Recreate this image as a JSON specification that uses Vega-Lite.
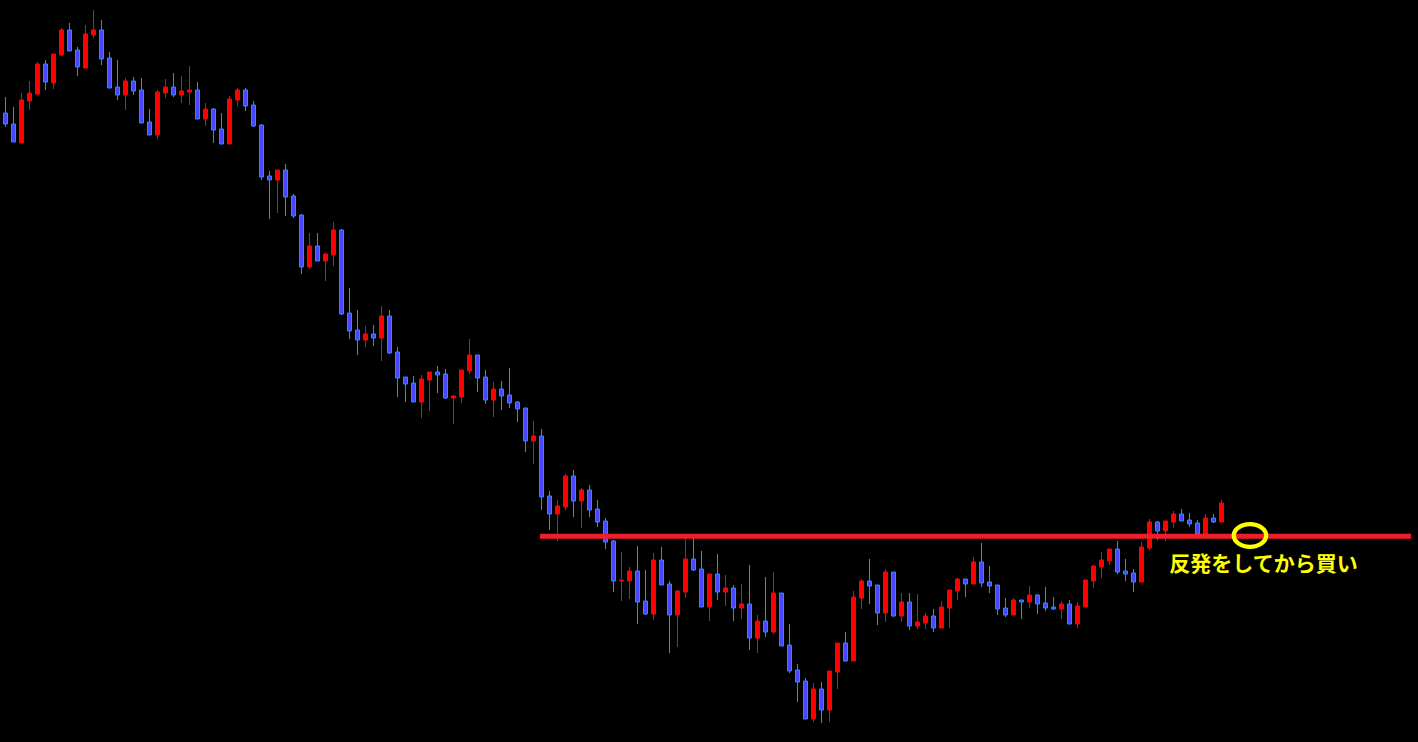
{
  "$schema": "https://vega.github.io/schema/vega-lite/v6.json",
  "width": 1418,
  "height": 742,
  "autosize": {"type": "fit", "contains": "padding"},
  "padding": 0,
  "background": "#000000",
  "config": {"view": {"stroke": null}},
  "datasets": {
    "candles": [
      {"i":0,"o":629,"h":645,"l":615,"c":618},
      {"i":1,"o":618,"h":635,"l":600,"c":600},
      {"i":2,"o":599,"h":649,"l":599,"c":642},
      {"i":3,"o":641,"h":661,"l":632,"c":649},
      {"i":4,"o":648,"h":680,"l":647,"c":678},
      {"i":5,"o":678,"h":682,"l":652,"c":660},
      {"i":6,"o":659,"h":688,"l":653,"c":688},
      {"i":7,"o":687,"h":714,"l":686,"c":712},
      {"i":8,"o":712,"h":719,"l":691,"c":691},
      {"i":9,"o":692,"h":695,"l":666,"c":675},
      {"i":10,"o":674,"h":717,"l":674,"c":708},
      {"i":11,"o":707,"h":732,"l":704,"c":712},
      {"i":12,"o":712,"h":722,"l":677,"c":683},
      {"i":13,"o":684,"h":690,"l":654,"c":654},
      {"i":14,"o":655,"h":682,"l":642,"c":647},
      {"i":15,"o":647,"h":664,"l":632,"c":661},
      {"i":16,"o":661,"h":665,"l":647,"c":651},
      {"i":17,"o":652,"h":664,"l":619,"c":619},
      {"i":18,"o":620,"h":633,"l":607,"c":607},
      {"i":19,"o":607,"h":652,"l":603,"c":650},
      {"i":20,"o":649,"h":663,"l":644,"c":655},
      {"i":21,"o":655,"h":669,"l":645,"c":647},
      {"i":22,"o":647,"h":666,"l":639,"c":651},
      {"i":23,"o":650,"h":676,"l":637,"c":652},
      {"i":24,"o":652,"h":660,"l":623,"c":623},
      {"i":25,"o":623,"h":639,"l":616,"c":633},
      {"i":26,"o":633,"h":634,"l":599,"c":612},
      {"i":27,"o":613,"h":629,"l":598,"c":598},
      {"i":28,"o":598,"h":646,"l":598,"c":643},
      {"i":29,"o":642,"h":654,"l":636,"c":652},
      {"i":30,"o":652,"h":654,"l":631,"c":636},
      {"i":31,"o":637,"h":641,"l":615,"c":616},
      {"i":32,"o":617,"h":618,"l":562,"c":565},
      {"i":33,"o":566,"h":571,"l":523,"c":562},
      {"i":34,"o":562,"h":572,"l":529,"c":572},
      {"i":35,"o":572,"h":578,"l":526,"c":545},
      {"i":36,"o":546,"h":548,"l":524,"c":526},
      {"i":37,"o":527,"h":528,"l":468,"c":475},
      {"i":38,"o":475,"h":509,"l":473,"c":496},
      {"i":39,"o":496,"h":509,"l":481,"c":481},
      {"i":40,"o":481,"h":489,"l":461,"c":488},
      {"i":41,"o":487,"h":520,"l":476,"c":512},
      {"i":42,"o":512,"h":513,"l":427,"c":428},
      {"i":43,"o":429,"h":454,"l":403,"c":411},
      {"i":44,"o":412,"h":432,"l":387,"c":402},
      {"i":45,"o":402,"h":416,"l":395,"c":408},
      {"i":46,"o":408,"h":417,"l":396,"c":404},
      {"i":47,"o":404,"h":436,"l":381,"c":426},
      {"i":48,"o":426,"h":432,"l":388,"c":389},
      {"i":49,"o":390,"h":395,"l":345,"c":364},
      {"i":50,"o":365,"h":365,"l":340,"c":358},
      {"i":51,"o":359,"h":366,"l":340,"c":340},
      {"i":52,"o":340,"h":367,"l":324,"c":363},
      {"i":53,"o":362,"h":370,"l":331,"c":370},
      {"i":54,"o":370,"h":376,"l":349,"c":367},
      {"i":55,"o":368,"h":373,"l":343,"c":344},
      {"i":56,"o":344,"h":347,"l":318,"c":346},
      {"i":57,"o":345,"h":372,"l":339,"c":372},
      {"i":58,"o":371,"h":403,"l":368,"c":387},
      {"i":59,"o":387,"h":387,"l":350,"c":364},
      {"i":60,"o":365,"h":372,"l":338,"c":342},
      {"i":61,"o":342,"h":360,"l":325,"c":353},
      {"i":62,"o":353,"h":361,"l":332,"c":346},
      {"i":63,"o":347,"h":374,"l":334,"c":339},
      {"i":64,"o":340,"h":341,"l":320,"c":333},
      {"i":65,"o":334,"h":334,"l":290,"c":301},
      {"i":66,"o":301,"h":321,"l":278,"c":306},
      {"i":67,"o":306,"h":313,"l":232,"c":245},
      {"i":68,"o":246,"h":251,"l":212,"c":228},
      {"i":69,"o":228,"h":242,"l":201,"c":236},
      {"i":70,"o":235,"h":268,"l":232,"c":266},
      {"i":71,"o":266,"h":272,"l":225,"c":241},
      {"i":72,"o":241,"h":254,"l":214,"c":252},
      {"i":73,"o":252,"h":257,"l":225,"c":232},
      {"i":74,"o":233,"h":242,"l":215,"c":220},
      {"i":75,"o":221,"h":224,"l":193,"c":200},
      {"i":76,"o":201,"h":202,"l":150,"c":161},
      {"i":77,"o":161,"h":190,"l":141,"c":162},
      {"i":78,"o":161,"h":175,"l":143,"c":171},
      {"i":79,"o":171,"h":196,"l":118,"c":140},
      {"i":80,"o":141,"h":172,"l":127,"c":128},
      {"i":81,"o":128,"h":189,"l":122,"c":182},
      {"i":82,"o":182,"h":195,"l":157,"c":157},
      {"i":83,"o":158,"h":161,"l":89,"c":127},
      {"i":84,"o":127,"h":152,"l":95,"c":151},
      {"i":85,"o":150,"h":204,"l":144,"c":183},
      {"i":86,"o":183,"h":204,"l":171,"c":172},
      {"i":87,"o":173,"h":191,"l":135,"c":135},
      {"i":88,"o":135,"h":168,"l":121,"c":168},
      {"i":89,"o":168,"h":188,"l":142,"c":150},
      {"i":90,"o":150,"h":167,"l":136,"c":154},
      {"i":91,"o":154,"h":157,"l":121,"c":134},
      {"i":92,"o":134,"h":158,"l":123,"c":138},
      {"i":93,"o":138,"h":177,"l":92,"c":104},
      {"i":94,"o":104,"h":127,"l":89,"c":121},
      {"i":95,"o":121,"h":165,"l":105,"c":110},
      {"i":96,"o":110,"h":170,"l":108,"c":149},
      {"i":97,"o":149,"h":149,"l":96,"c":96},
      {"i":98,"o":97,"h":118,"l":69,"c":71},
      {"i":99,"o":72,"h":78,"l":40,"c":60},
      {"i":100,"o":61,"h":64,"l":23,"c":23},
      {"i":101,"o":23,"h":59,"l":20,"c":53},
      {"i":102,"o":53,"h":60,"l":19,"c":32},
      {"i":103,"o":32,"h":71,"l":20,"c":71},
      {"i":104,"o":70,"h":99,"l":53,"c":99},
      {"i":105,"o":99,"h":110,"l":80,"c":81},
      {"i":106,"o":81,"h":151,"l":81,"c":145},
      {"i":107,"o":144,"h":163,"l":133,"c":161},
      {"i":108,"o":161,"h":183,"l":138,"c":156},
      {"i":109,"o":157,"h":157,"l":117,"c":129},
      {"i":110,"o":129,"h":173,"l":120,"c":170},
      {"i":111,"o":170,"h":170,"l":125,"c":126},
      {"i":112,"o":126,"h":149,"l":120,"c":140},
      {"i":113,"o":140,"h":149,"l":112,"c":116},
      {"i":114,"o":116,"h":148,"l":113,"c":120},
      {"i":115,"o":119,"h":129,"l":113,"c":126},
      {"i":116,"o":126,"h":133,"l":110,"c":114},
      {"i":117,"o":114,"h":141,"l":114,"c":135},
      {"i":118,"o":134,"h":152,"l":114,"c":152},
      {"i":119,"o":151,"h":164,"l":142,"c":163},
      {"i":120,"o":163,"h":163,"l":145,"c":158},
      {"i":121,"o":158,"h":185,"l":158,"c":180},
      {"i":122,"o":180,"h":199,"l":155,"c":159},
      {"i":123,"o":160,"h":176,"l":149,"c":156},
      {"i":124,"o":157,"h":157,"l":127,"c":133},
      {"i":125,"o":134,"h":144,"l":125,"c":127},
      {"i":126,"o":127,"h":144,"l":127,"c":142},
      {"i":127,"o":142,"h":142,"l":123,"c":140},
      {"i":128,"o":140,"h":156,"l":134,"c":147},
      {"i":129,"o":147,"h":148,"l":128,"c":138},
      {"i":130,"o":139,"h":155,"l":131,"c":134},
      {"i":131,"o":135,"h":145,"l":132,"c":133},
      {"i":132,"o":133,"h":141,"l":123,"c":138},
      {"i":133,"o":138,"h":142,"l":118,"c":118},
      {"i":134,"o":118,"h":140,"l":114,"c":136},
      {"i":135,"o":135,"h":162,"l":135,"c":162},
      {"i":136,"o":161,"h":177,"l":154,"c":176},
      {"i":137,"o":175,"h":190,"l":164,"c":182},
      {"i":138,"o":181,"h":193,"l":177,"c":193},
      {"i":139,"o":193,"h":201,"l":168,"c":170},
      {"i":140,"o":171,"h":183,"l":161,"c":168},
      {"i":141,"o":169,"h":173,"l":150,"c":160},
      {"i":142,"o":160,"h":200,"l":160,"c":195},
      {"i":143,"o":194,"h":223,"l":192,"c":220},
      {"i":144,"o":220,"h":221,"l":202,"c":211},
      {"i":145,"o":211,"h":221,"l":201,"c":221},
      {"i":146,"o":220,"h":231,"l":214,"c":228},
      {"i":147,"o":228,"h":233,"l":221,"c":221},
      {"i":148,"o":222,"h":229,"l":215,"c":218},
      {"i":149,"o":219,"h":222,"l":206,"c":208},
      {"i":150,"o":208,"h":228,"l":206,"c":224},
      {"i":151,"o":224,"h":228,"l":219,"c":220},
      {"i":152,"o":220,"h":242,"l":220,"c":239}
    ],
    "level": [{"x1": 66.8, "x2": 175.7, "v": 205.7}],
    "circle": [{"x": 155.56, "v": 206.5}],
    "note": [{"x": 157.25, "v": 177.5, "t": "反発をしてから買い"}]
  },
  "layer": [
    {
      "data": {"name": "candles"},
      "mark": {"type": "rule", "strokeWidth": 1},
      "encoding": {
        "x": {"field": "i", "type": "quantitative", "axis": null, "scale": {"domain": [-0.6875, 176.5625], "nice": false, "zero": false, "padding": 0}},
        "y": {"field": "l", "type": "quantitative", "axis": null, "scale": {"domain": [0, 742], "nice": false, "zero": false, "padding": 0}},
        "y2": {"field": "h"},
        "color": {"condition": {"test": "datum.c > datum.o", "value": "#ff0000"}, "value": "#1e90ff"}
      }
    },
    {
      "data": {"name": "candles"},
      "mark": {"type": "bar", "size": 4, "strokeWidth": 1},
      "encoding": {
        "x": {"field": "i", "type": "quantitative", "axis": null, "scale": {"domain": [-0.6875, 176.5625], "nice": false, "zero": false, "padding": 0}},
        "y": {"field": "o", "type": "quantitative", "axis": null, "scale": {"domain": [0, 742], "nice": false, "zero": false, "padding": 0}},
        "y2": {"field": "c"},
        "fill": {"condition": {"test": "datum.c > datum.o", "value": "#ff0000"}, "value": "#4646ff"},
        "stroke": {"condition": {"test": "datum.c > datum.o", "value": "#ff0000"}, "value": "#1e90ff"}
      }
    },
    {
      "data": {"name": "level"},
      "mark": {"type": "rule", "strokeWidth": 5, "color": "#f01e28"},
      "encoding": {
        "x": {"field": "x1", "type": "quantitative", "axis": null, "scale": {"domain": [-0.6875, 176.5625], "nice": false, "zero": false, "padding": 0}},
        "x2": {"field": "x2"},
        "y": {"field": "v", "type": "quantitative", "axis": null, "scale": {"domain": [0, 742], "nice": false, "zero": false, "padding": 0}}
      }
    },
    {
      "data": {"name": "circle"},
      "mark": {"type": "point", "shape": "M 1 0 C 1 0.3866 0.5523 0.7 0 0.7 C -0.5523 0.7 -1 0.3866 -1 0 C -1 -0.3866 -0.5523 -0.7 0 -0.7 C 0.5523 -0.7 1 -0.3866 1 0 Z", "size": 1050, "strokeWidth": 4.3, "filled": false, "color": "#ffff00", "opacity": 1},
      "encoding": {
        "x": {"field": "x", "type": "quantitative", "axis": null, "scale": {"domain": [-0.6875, 176.5625], "nice": false, "zero": false, "padding": 0}},
        "y": {"field": "v", "type": "quantitative", "axis": null, "scale": {"domain": [0, 742], "nice": false, "zero": false, "padding": 0}}
      }
    },
    {
      "data": {"name": "note"},
      "mark": {"type": "text", "font": "Noto Sans CJK JP", "fontSize": 21, "fontWeight": "bold", "color": "#ffff00", "align": "center", "baseline": "middle"},
      "encoding": {
        "x": {"field": "x", "type": "quantitative", "axis": null, "scale": {"domain": [-0.6875, 176.5625], "nice": false, "zero": false, "padding": 0}},
        "y": {"field": "v", "type": "quantitative", "axis": null, "scale": {"domain": [0, 742], "nice": false, "zero": false, "padding": 0}},
        "text": {"field": "t"}
      }
    }
  ]
}
